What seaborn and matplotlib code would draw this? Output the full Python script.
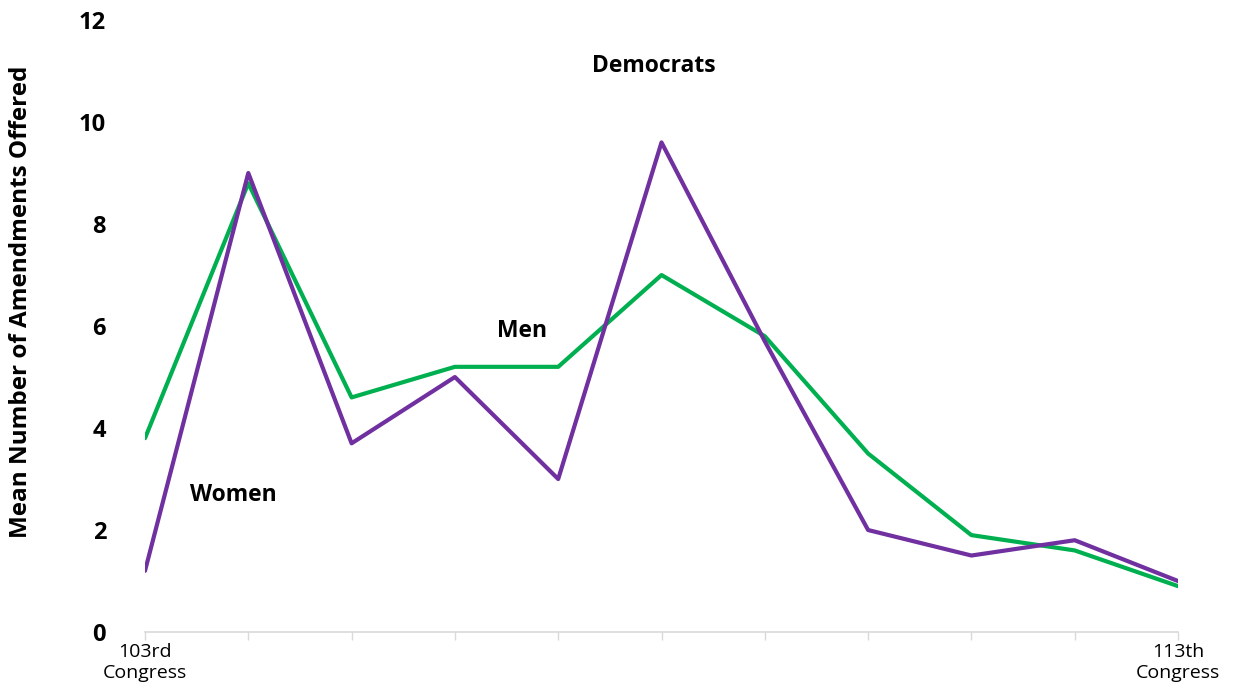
import pandas as pd
import matplotlib.pyplot as plt
import seaborn as sns

# data (103rd -> 113th Congress)
congress = list(range(103, 114))
women = [1.2, 9.0, 3.7, 5.0, 3.0, 9.6, 5.7, 2.0, 1.5, 1.8, 1.0]
men = [3.8, 8.8, 4.6, 5.2, 5.2, 7.0, 5.8, 3.5, 1.9, 1.6, 0.9]
tick_labels = ["103rd\nCongress", "113th\nCongress"]

df = pd.DataFrame({
    "congress": congress * 2,
    "mean": women + men,
    "group": ["Women"] * len(women) + ["Men"] * len(men),
})

sns.set_theme(style="white")
plt.rcParams["font.family"] = ["Open Sans", "DejaVu Sans"]
plt.rcParams["text.color"] = "black"
plt.rcParams["xtick.color"] = "black"
plt.rcParams["ytick.color"] = "black"
plt.rcParams["axes.labelcolor"] = "black"

fig = plt.figure(figsize=(12.33, 7), dpi=100)
ax = fig.add_axes([0.1176, 0.0971, 0.8378, 0.8743])

sns.lineplot(data=df, x="congress", y="mean", hue="group",
             palette={"Women": "#7030A0", "Men": "#00B050"},
             hue_order=["Men", "Women"], linewidth=3, legend=False, ax=ax)

ax.set_xlim(103, 113)
ax.set_ylim(0, 12)
ax.set_yticks(range(0, 13, 2))
ax.set_yticklabels([str(v) for v in range(0, 13, 2)], fontsize=17, fontweight="bold")
ax.set_xticks(congress)
ax.set_xticklabels([tick_labels[0]] + [""] * 9 + [tick_labels[1]], fontsize=14)
ax.tick_params(axis="x", length=6, width=1, color="#d9d9d9", bottom=True, pad=2)
ax.tick_params(axis="y", length=0, pad=28)
ax.set_xlabel("")
ax.set_ylabel("Mean Number of Amendments Offered", fontsize=17.5, fontweight="bold")
ax.yaxis.set_label_coords(-0.108, 0.54)

for side in ["top", "right", "left"]:
    ax.spines[side].set_visible(False)
ax.spines["bottom"].set_color("#d9d9d9")
ax.spines["bottom"].set_linewidth(1.2)

ax.text(107.93, 11.1, "Democrats", fontsize=16.5, fontweight="bold", ha="center", va="center")
ax.text(106.65, 5.9, "Men", fontsize=16.5, fontweight="bold", ha="center", va="center")
ax.text(103.86, 2.68, "Women", fontsize=16.5, fontweight="bold", ha="center", va="center")

plt.savefig("out.png", dpi=100)
